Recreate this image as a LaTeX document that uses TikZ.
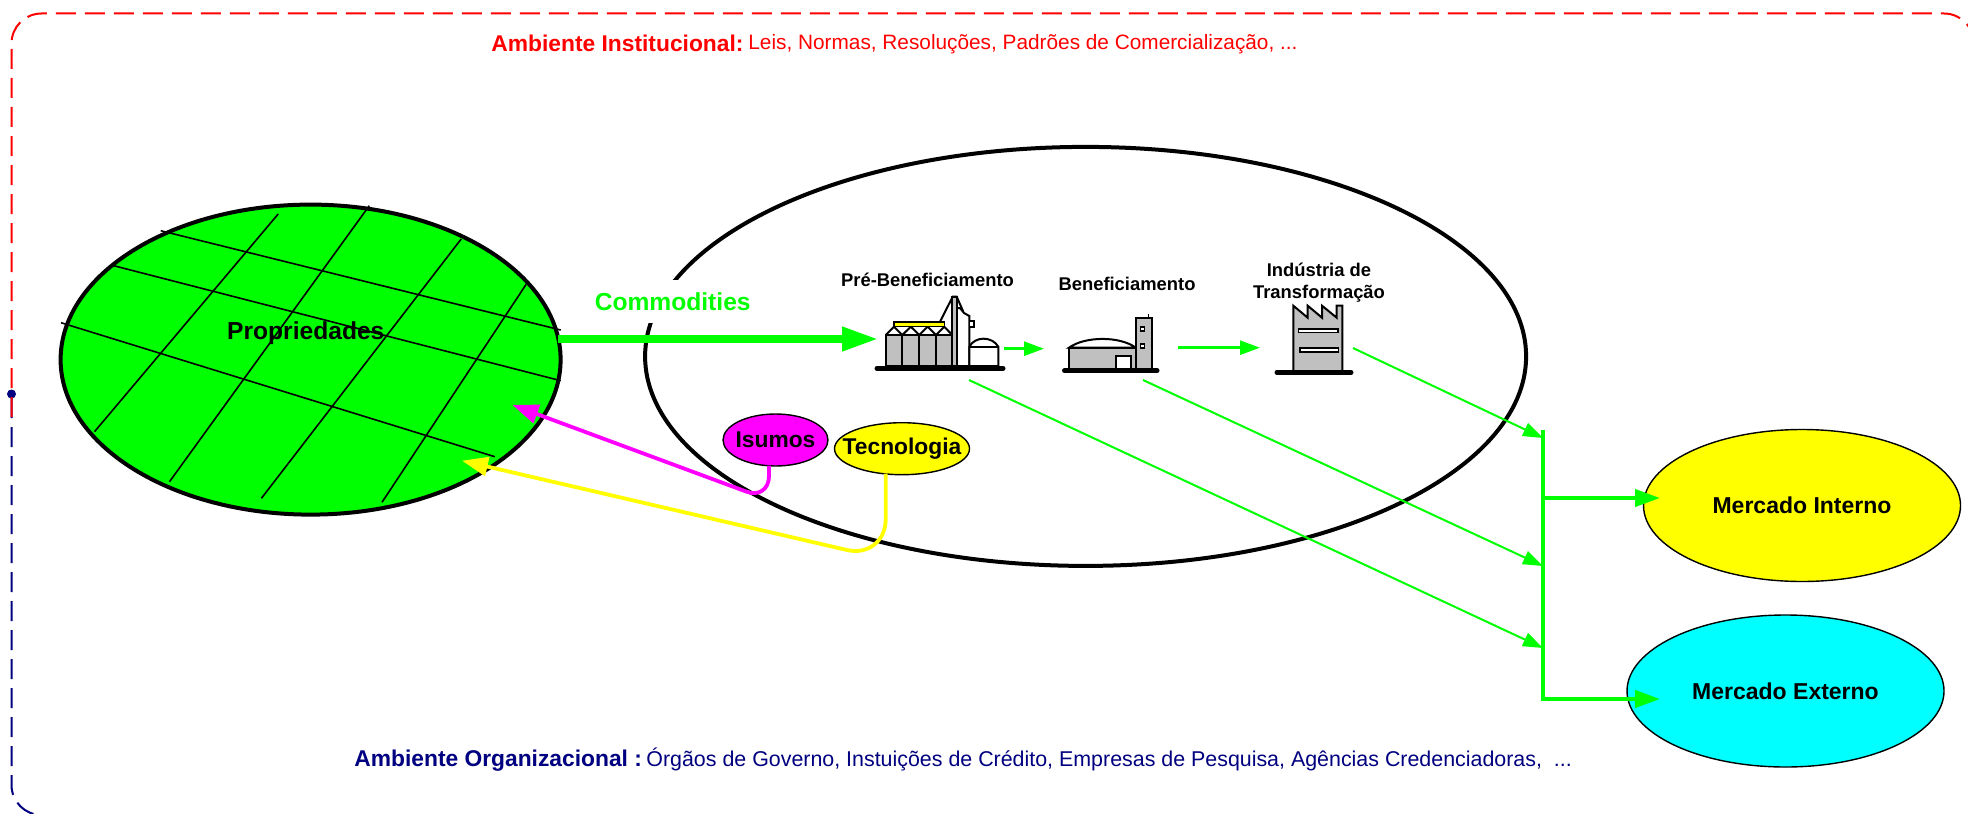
\documentclass[tikz,border=0pt]{standalone}
\usepackage{fontspec}
\setmainfont{Liberation Sans}
\usepackage{tikz}
\usetikzlibrary{arrows.meta,shapes.geometric}
\definecolor{verde}{RGB}{0,255,0}
\definecolor{amarelo}{RGB}{255,255,0}
\definecolor{ciano}{RGB}{0,255,255}
\definecolor{lilas}{RGB}{255,0,255}
\definecolor{vermelho}{RGB}{255,0,0}
\definecolor{marinho}{RGB}{0,0,128}
\definecolor{cinza}{RGB}{192,192,192}

\begin{document}
\begin{tikzpicture}[x=0.5pt,y=-0.5pt,
	moldura/.style={line width=1pt,dash pattern=on 10pt off 4.5pt,rounded corners=15pt},
	oval/.style={ellipse,draw=black,inner sep=0pt,outer sep=0pt,align=center},
	mercado/.style={oval,line width=0.7pt,minimum width=317*0.5pt,minimum height=152*0.5pt,font=\fontsize{11.5}{13}\selectfont\bfseries},
	insumo/.style={oval,line width=0.7pt,minimum height=52*0.5pt,font=\fontsize{11.4}{13}\selectfont\bfseries},
	etapa/.style={inner sep=0pt,align=center,font=\fontsize{9.2}{11.2}\selectfont\bfseries},
	ambiente/.style={anchor=base west,inner sep=0pt,font=\fontsize{10.4}{13}\selectfont},
	talhao/.style={line width=0.8pt},
	fluxo/.style={draw=verde,line width=1pt,-{Triangle[length=10pt,width=7pt]}},
	tronco/.style={draw=verde,line width=2pt,-{Triangle[length=12.5pt,width=8.5pt]}},
	retorno/.style={line width=1.9pt,rounded corners=12pt,-{Triangle[length=13pt,width=9.5pt]}},
	icone/.style={draw=black,line width=1pt,fill=cinza},
	vazado/.style={draw=black,line width=1pt,fill=white},
	base/.style={draw=black,line width=2.5pt,line cap=round}]
	\clip (0,0) rectangle (1968,813);
	\fill[white] (0,0) rectangle (1968,813);

	% moldura
	\node[circle,fill=marinho,inner sep=0pt,minimum size=4.5pt] (ponto) at (11.5,394) {};
	\draw[moldura,draw=marinho] (11.5,398) -- (11.5,815) -- (1974,815);
	\draw[moldura,draw=vermelho] (11.5,417) -- (11.5,13.5) -- (1974,13.5) -- (1974,60);
	\node[ambiente,text=vermelho,font=\fontsize{11.4}{13}\selectfont\bfseries] (instA) at (491,52) {Ambiente Institucional:};
	\node[ambiente,text=vermelho] (instB) at (748,50) {Leis, Normas, Resoluções, Padrões de Comercialização, ...};
	\node[ambiente,text=marinho,font=\fontsize{11.4}{13}\selectfont\bfseries] (orgA) at (354,766) {Ambiente Organizacional :};
	\node[ambiente,text=marinho,font=\fontsize{10.7}{13}\selectfont] (orgB) at (646,766) {Órgãos de Governo, Instuições de Crédito, Empresas de Pesquisa, Agências Credenciadoras,\ \ ...};

	% propriedades
	\node[oval,fill=verde,line width=2pt,minimum width=500*0.5pt,minimum height=310*0.5pt] (campo) at (310.6,359.6) {};
	\begin{scope}[talhao]
		\draw (160.7,230.7) -- (560.7,330); \draw (111,265) -- (560.7,380.7); \draw (61,322.7) -- (494.8,456.7);
		\draw (278.2,214) -- (94.5,431.7); \draw (369.3,205.7) -- (169.5,481.7); \draw (461.2,239) -- (261.4,498.3); \draw (526.2,284.3) -- (382,502.3);
	\end{scope}
	\node[inner sep=0pt,font=\fontsize{12.3}{14}\selectfont\bfseries] (proplabel) at (305.8,333.5) {Propriedades};

	% agroindustria
	\node[oval,line width=2pt,minimum width=881*0.5pt,minimum height=419*0.5pt] (agro) at (1085.6,356.4) {};
	\node[fill=white,inner sep=0pt,minimum width=160*0.5pt,minimum height=43*0.5pt,text=verde,font=\fontsize{12.3}{14}\selectfont\bfseries] (comm) at (672.7,301.5) {Commodities};

	\node[etapa] (prelabel) at (927.5,280) {Pré-Beneficiamento};
	\node[etapa] (benlabel) at (1127,283.6) {Beneficiamento};
	\node[etapa] (indlabel) at (1319,282.5) {Indústria de\\Transformação};

	% silos
	\begin{scope}
		\draw[vazado] (956.7,366) -- (956.7,308) -- (960,308) -- (964,313) -- (969.3,316) -- (969.3,366) -- cycle;
		\draw[vazado,line width=0.8pt] (969.3,321) rectangle (974,327);
		\draw[draw=black,line width=1pt] (940,321.7) -- (952.7,296.7) -- (956.7,296.7) -- (963.3,311.7);
		\draw[icone] (952.3,366) -- (952.3,296.7) -- (956.7,296.7) -- (956.7,366) -- cycle;
		\draw[vazado] (885.7,335) -- (894,326.7) -- (902.3,335) -- (910.8,326.7) -- (919.3,335) -- (927.6,326.7) -- (936,335) -- (944.2,326.7) -- (952.3,335);
		\draw[icone] (885.7,335) rectangle (902.3,366); \draw[icone] (902.3,335) rectangle (919.3,366); \draw[icone] (919.3,335) rectangle (936,366); \draw[icone] (936,335) rectangle (952.3,366);
		\draw[draw=black,fill=amarelo,line width=0.8pt] (894,322) rectangle (944.3,326.5);
		\draw[vazado] (969.3,346.7) .. controls (975,336) and (992,336) .. (998.3,346.7) -- (998.3,366) -- (969.3,366) -- cycle;
		\draw[draw=black,line width=1pt] (969.3,346.7) -- (998.3,346.7);
		\draw[base] (877,368.3) -- (1003,368.3);
	\end{scope}

	% galpao
	\begin{scope}
		\draw[vazado] (1069,347.7) .. controls (1085,336) and (1120,336) .. (1135.7,347.7) -- cycle;
		\draw[icone] (1069,347.7) rectangle (1135.7,369);
		\draw[vazado] (1116,355.7) rectangle (1131,369);
		\draw[icone] (1135.7,318.3) rectangle (1152.3,369);
		\draw[vazado,line width=0.8pt] (1140.3,327) rectangle (1144.3,331); \draw[vazado,line width=0.8pt] (1140.3,343.7) rectangle (1144.3,347.7);
		\draw[draw=black,line width=0.5pt] (1148.7,314) -- (1148.7,318.3);
		\draw[base] (1064.5,370.7) -- (1157,370.7);
	\end{scope}

	% fabrica
	\begin{scope}
		\draw[icone] (1293.3,305.7) -- (1307.7,317.7) -- (1307.7,305.7) -- (1322,317.7) -- (1322,305.7) -- (1336.7,317.7) -- (1336.7,305.7) -- (1342.3,305.7) -- (1342.3,371) -- (1293.3,371) -- cycle;
		\draw[vazado,line width=0.8pt] (1298.3,328.7) rectangle (1338,332.3); \draw[vazado,line width=0.8pt] (1300,347.7) rectangle (1338.3,352);
		\draw[base] (1277,372.3) -- (1351,372.3);
	\end{scope}

	% mercados
	\node[mercado,fill=amarelo] (interno) at (1802,505.5) {Mercado Interno};
	\node[mercado,fill=ciano] (externo) at (1785.5,691) {Mercado Externo};

	% insumos
	\node[insumo,fill=lilas,minimum width=105*0.5pt,inner xsep=-1.5pt] (isumos) at (775.5,440) {Isumos};
	\node[insumo,fill=amarelo,minimum width=135*0.5pt,inner xsep=-6.1pt] (tecno) at (902,448.7) {Tecnologia};
	\coordinate (isumosA) at (769,465.5);
	\coordinate (isumosB) at (769,500);
	\coordinate (isumosC) at (512.5,405);
	\coordinate (tecnoA) at (885.7,473.5);
	\coordinate (tecnoB) at (885.7,559);
	\coordinate (tecnoC) at (462,460.7);
	\draw[retorno,draw=lilas] (isumosA) -- (isumosB) -- (isumosC);
	\draw[retorno,draw=amarelo,rounded corners=20pt] (tecnoA) -- (tecnoB) -- (tecnoC);

	% fluxos
	\coordinate (commA) at (558,339);
	\coordinate (commB) at (878,339);
	\draw[draw=verde,line width=3.7pt,-{Triangle[length=18pt,width=11.5pt]}] (commA) -- (commB);
	\coordinate (preA) at (1004,348.7);
	\coordinate (preB) at (1044,348.7);
	\coordinate (benA) at (1178,347.7);
	\coordinate (benB) at (1260,347.7);
	\draw[fluxo,line width=1.4pt] (preA) -- (preB);
	\draw[fluxo,line width=1.4pt] (benA) -- (benB);
	\coordinate (busA) at (1543,430);
	\coordinate (busB) at (1543,699);
	\coordinate (busI) at (1543,498);
	\coordinate (busE) at (1660,699);
	\coordinate (indA) at (1353,348);
	\coordinate (indB) at (1543,438);
	\coordinate (benC) at (1143,380);
	\coordinate (benD) at (1543,566);
	\coordinate (preC) at (969,380);
	\coordinate (preD) at (1543,648);
	\draw[fluxo] (indA) -- (indB);
	\draw[fluxo] (benC) -- (benD);
	\draw[fluxo] (preC) -- (preD);
	\draw[tronco] (busA) -- (busB) -- (busE);
	\draw[tronco] (busI) -- (busI -| 1660,0);
\end{tikzpicture}
\end{document}
